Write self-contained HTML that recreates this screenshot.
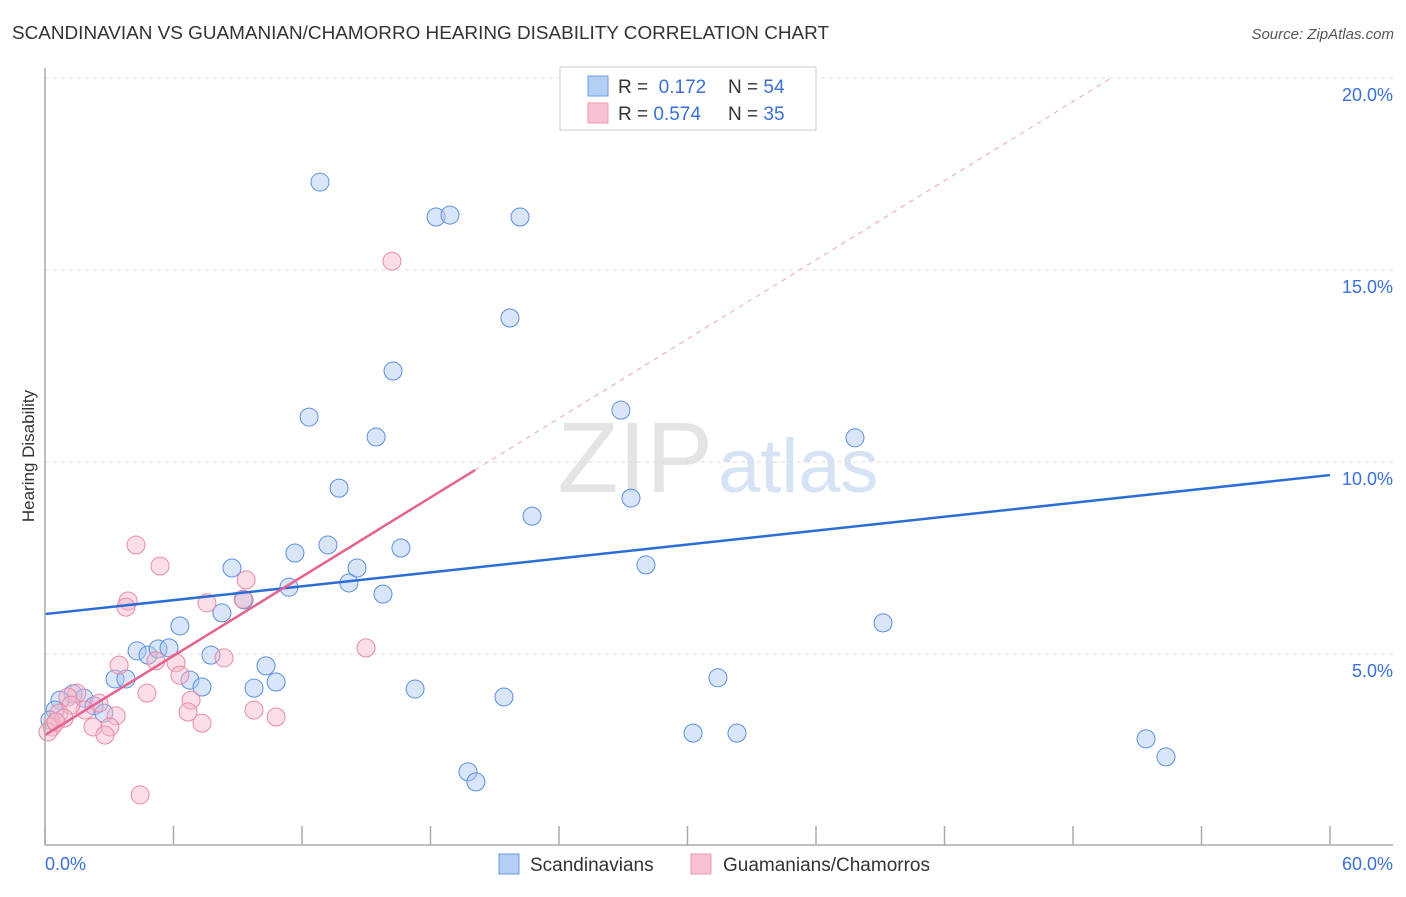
<!DOCTYPE html>
<html><head><meta charset="utf-8"><style>
body{margin:0;background:#fff;font-family:"Liberation Sans",sans-serif;}
svg text{font-family:"Liberation Sans",sans-serif;}
</style></head><body>
<svg id="c" width="1406" height="892" xmlns="http://www.w3.org/2000/svg">
<text x="12" y="39" font-size="18" fill="#333" textLength="817" lengthAdjust="spacingAndGlyphs">SCANDINAVIAN VS GUAMANIAN/CHAMORRO HEARING DISABILITY CORRELATION CHART</text>
<text x="1394" y="39" font-size="15" fill="#555" text-anchor="end" font-style="italic">Source: ZipAtlas.com</text>
<text x="34" y="456" font-size="17" fill="#333" text-anchor="middle" transform="rotate(-90 34 456)">Hearing Disability</text>
<text x="713" y="492" font-size="100" fill="#e4e4e4" text-anchor="end" font-family="Liberation Serif">ZIP</text>
<text x="718" y="492" font-size="76" fill="#d5e3f5">atlas</text>
<g id="grid"></g><g id="pts"></g><g id="trend"></g>
<line x1="45" y1="68" x2="45" y2="845" stroke="#aaa" stroke-width="1.5"/>
<line x1="45" y1="845" x2="1393" y2="845" stroke="#aaa" stroke-width="1.5"/>
<text x="45" y="870" font-size="18" fill="#3a6fd8">0.0%</text>
<text x="1393" y="870" font-size="18" fill="#3a6fd8" text-anchor="end">60.0%</text>
<g>
<rect x="560" y="67" width="256" height="63" fill="#fff" stroke="#ccc"/>
<rect x="588" y="76" width="20" height="20" fill="#b4cff4" stroke="#6d9be3"/>
<rect x="588" y="103" width="20" height="20" fill="#f9c2d2" stroke="#ec9ab1"/>
<text x="618" y="93" font-size="19" fill="#333">R = <tspan fill="#3a6fd8">&#160;0.172</tspan></text>
<text x="728" y="93" font-size="19" fill="#333">N = <tspan fill="#3a6fd8">54</tspan></text>
<text x="618" y="120" font-size="19" fill="#333">R = <tspan fill="#3a6fd8">0.574</tspan></text>
<text x="728" y="120" font-size="19" fill="#333">N = <tspan fill="#3a6fd8">35</tspan></text>
</g>
<g>
<rect x="499" y="854" width="20" height="20" fill="#b4cff4" stroke="#6d9be3"/>
<text x="530" y="871" font-size="19" fill="#333">Scandinavians</text>
<rect x="691" y="854" width="20" height="20" fill="#f9c2d2" stroke="#ec9ab1"/>
<text x="723" y="871" font-size="19" fill="#333">Guamanians/Chamorros</text>
</g>
</svg>
<script>
const yTicks=[5,10,15,20];
const yTickLabels=["5.0%","10.0%","15.0%","20.0%"];
const xTicks=[0,6,12,18,24,30,36,42,48,54,60];
const blueX=[12.84,18.26,18.91,22.18,21.71,16.25,12.33,15.46,26.89,37.82,27.36,13.73,22.74,13.21,11.67,16.62,28.06,8.73,14.57,14.19,11.39,15.78,9.29,8.26,6.30,39.13,4.30,4.81,5.28,5.79,7.75,10.32,3.27,3.78,6.77,7.33,9.76,10.79,17.28,21.43,31.42,1.31,0.70,1.82,2.29,2.75,0.47,0.23,30.26,32.31,51.41,52.34,19.75,20.12,33.38];
const blueY=[17.29,16.38,16.43,16.38,13.75,12.37,11.17,10.65,11.35,10.63,9.06,9.32,8.59,7.84,7.63,7.76,7.32,7.24,7.24,6.85,6.74,6.56,6.41,6.07,5.73,5.81,5.08,4.97,5.13,5.16,4.97,4.69,4.35,4.35,4.32,4.14,4.11,4.27,4.09,3.88,4.38,3.96,3.80,3.85,3.65,3.46,3.54,3.28,2.94,2.94,2.79,2.32,1.93,1.67,19.95];
const pinkX=[16.20,4.25,5.37,3.88,3.78,9.39,7.56,9.25,14.99,8.36,3.46,5.18,6.12,6.30,4.76,6.82,6.68,7.33,9.76,10.79,1.49,1.07,2.52,1.87,0.65,3.32,3.03,2.24,2.80,0.33,0.14,4.44,1.21,0.89,0.51];
const pinkY=[15.23,7.84,7.29,6.38,6.22,6.93,6.33,6.43,5.16,4.90,4.71,4.82,4.77,4.45,3.98,3.80,3.49,3.20,3.54,3.36,3.98,3.88,3.72,3.54,3.46,3.39,3.10,3.10,2.89,3.10,2.97,1.33,3.67,3.33,3.23];
const blueTrend=[6.04,9.66];
const pinkTrend=[2.89,0.3437];
const pinkSolidEnd=20.08;
const NS="http://www.w3.org/2000/svg";
const X=v=>45+v*1285/60, Y=v=>846-v*38.4;
function mk(t,a,p){const e=document.createElementNS(NS,t);for(const k in a)e.setAttribute(k,a[k]);document.getElementById(p).appendChild(e);return e;}
yTicks.forEach((t,i)=>{
 const g=mk('line',{x1:45,x2:1393,y1:Y(t),y2:Y(t),stroke:'#ddd','stroke-dasharray':'4,4'},'grid');
 
 
 const l=mk('text',{x:1393,y:Y(t)+23,'font-size':18,fill:'#3a6fd8','text-anchor':'end'},'grid');
 l.textContent=yTickLabels[i];
 
 
});
xTicks.forEach(t=>{
 const m=mk('line',{x1:X(t),x2:X(t),y1:826,y2:845,stroke:'#aaa','stroke-width':1.5},'grid');
 
 
});
blueX.forEach((v,i)=>{
 const c=mk('circle',{cx:X(v),cy:Y(blueY[i]),r:9,fill:'rgba(170,200,242,0.45)',stroke:'#5b8fe0','stroke-width':1},'pts');
 
 
});
pinkX.forEach((v,i)=>{
 const c=mk('circle',{cx:X(v),cy:Y(pinkY[i]),r:9,fill:'rgba(246,182,202,0.45)',stroke:'#e98aa5','stroke-width':1},'pts');
 
 
});
const bt=mk('line',{x1:X(0),y1:Y(blueTrend[0]),x2:X(60),y2:Y(blueTrend[1]),stroke:'#2a6dd6','stroke-width':2.5},'trend');


const pe=(20-pinkTrend[0])/pinkTrend[1];
const pd=mk('line',{x1:X(pinkSolidEnd),y1:Y(pinkTrend[0]+pinkTrend[1]*pinkSolidEnd),x2:X(pe),y2:Y(20),stroke:'#eba3b8','stroke-width':1,'stroke-dasharray':'5,5'},'trend');


const ps=mk('line',{x1:X(0),y1:Y(pinkTrend[0]),x2:X(pinkSolidEnd),y2:Y(pinkTrend[0]+pinkTrend[1]*pinkSolidEnd),stroke:'#e5648e','stroke-width':2.5},'trend');


</script>
</body></html>
